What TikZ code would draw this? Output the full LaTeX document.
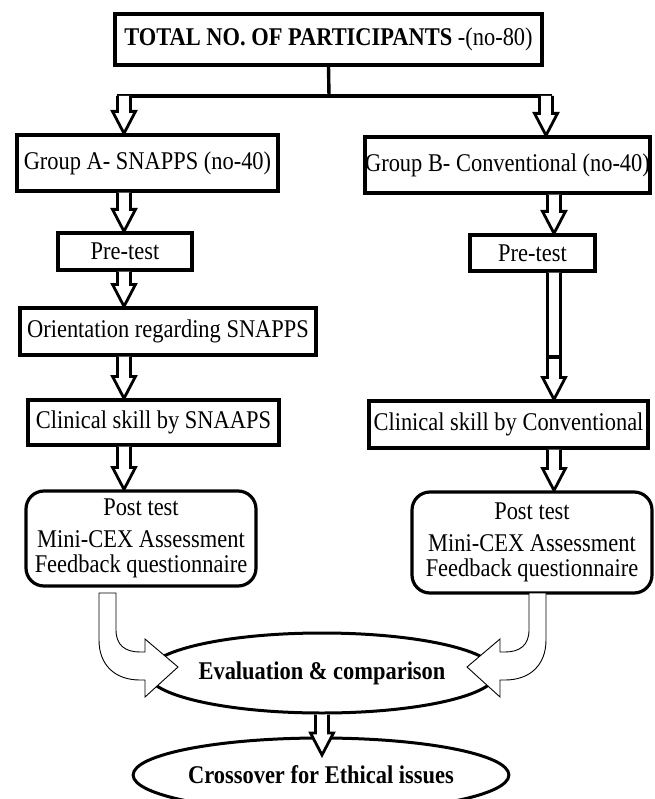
\documentclass[tikz,border=0pt]{standalone}
\usepackage{fontspec}
\setmainfont{Liberation Serif}[FakeStretch=0.88]
\usetikzlibrary{calc,shapes.geometric}
\begin{document}
\begin{tikzpicture}[x=1pt,y=-1pt,
  txt/.style={font=\fontsize{25.5}{25}\selectfont},
  box/.style n args={2}{draw, line width=3.2pt, inner sep=0pt, minimum width=#1pt, minimum height=#2pt, txt},
  rbox/.style n args={2}{box={#1}{#2}, rounded corners=18pt, align=center},
  oval/.style n args={2}{draw, ellipse, line width=3pt, inner sep=0pt, minimum width=#1pt, minimum height=#2pt, txt},
  conn/.style={line width=3.4pt},
  blk/.style={draw, line width=2.8pt, fill=white, line join=miter,
    to path={let \p1=(\tikztostart), \p2=(\tikztotarget) in
      (\x1-6.5pt,\y1) -- (\x1-6.5pt,\y2+22pt) -- (\x1-11.5pt,\y2+22pt) -- (\x1,\y2)
      -- (\x1+11.5pt,\y2+22pt) -- (\x1+6.5pt,\y2+22pt) -- (\x1+6.5pt,\y1)}},
  bent/.style={draw, line width=0.9pt, fill=white, line join=miter}
]
\useasboundingbox (0,0) rectangle (654,799);

% nodes
\node[box={427}{51}] (top) at (328.5,39.5) {\textbf{TOTAL NO. OF PARTICIPANTS} -(no-80)};
\node[box={261}{56}] (ga) at (147.5,163) {Group A- SNAPPS (no-40)};
\node[box={285}{56}] (gb) at (507.5,165) {Group B- Conventional (no-40)};
\node[box={134}{37}] (pl) at (125,251.5) {Pre-test};
\node[box={125}{36}] (pr) at (532.5,253) {Pre-test};
\node[box={296}{47}] (or) at (168,331.5) {Orientation regarding SNAPPS};
\node[box={251}{45}] (cl) at (153.5,422.5) {Clinical skill by SNAAPS};
\node[box={279}{47}] (cr) at (508.5,424.5) {Clinical skill by Conventional};
\node[rbox={230}{95}] (postl) at (141,538.5) {Post test\\[7pt]Mini-CEX Assessment\\Feedback questionnaire};
\node[rbox={240}{101}] (postr) at (532,542.5) {Post test\\[7pt]Mini-CEX Assessment\\Feedback questionnaire};
\node[oval={276}{80}] (ev) at (322,673) {\textbf{Evaluation \& comparison}};
\node[oval={288}{74}] (cx) at (321,775) {\textbf{Crossover for Ethical issues}};

% helper coordinates
\coordinate (xl) at (124,0);
\coordinate (xr) at (554,0);
\coordinate (xr0) at (546,0);
\coordinate (sp) at (329,96);
\coordinate (spL) at (117,96);
\coordinate (spR) at (552,96);
\coordinate (jR) at (554,357);
\coordinate (cxT) at (322,755);

% split connector
\draw[conn] (top.south) -- (sp);
\draw[conn] (spL) -- (spR);
\draw[blk] (xl |- spL) to (ga.north -| xl);
\draw[blk] (xr0 |- spR) to (gb.north -| xr0);

% left chain
\draw[blk] (ga.south -| xl) to (pl.north -| xl);
\draw[blk] (pl.south -| xl) to (or.north -| xl);
\draw[blk] (or.south -| xl) to (cl.north -| xl);
\draw[blk] (cl.south -| xl) to (postl.north -| xl);

% right chain
\draw[blk] (gb.south -| xr) to (pr.north -| xr);
\draw[blk] (pr.south -| xr) to (cr.north -| xr);
\draw[line width=3.4pt] ($(jR)+(-7.9,0)$) -- ($(jR)+(7.9,0)$);
\draw[blk] (cr.south -| xr) to (postr.north -| xr);

% bottom
\draw[blk] (ev.south) to (cxT);

% bent arrows
\draw[bent] (99,593) -- (116,593) -- (116,630) .. controls (116,645) and (125,652) .. (140,652)
  -- (145,652) -- (145,639) -- (178,667) -- (145,697) -- (145,680) -- (140,680)
  .. controls (115,680) and (99,665) .. (99,640) -- cycle;
\draw[bent] (546,593) -- (529,593) -- (529,630) .. controls (529,645) and (520,652) .. (505,652)
  -- (500,652) -- (500,639) -- (467,667) -- (500,697) -- (500,680) -- (505,680)
  .. controls (530,680) and (546,665) .. (546,640) -- cycle;
\end{tikzpicture}
\end{document}
